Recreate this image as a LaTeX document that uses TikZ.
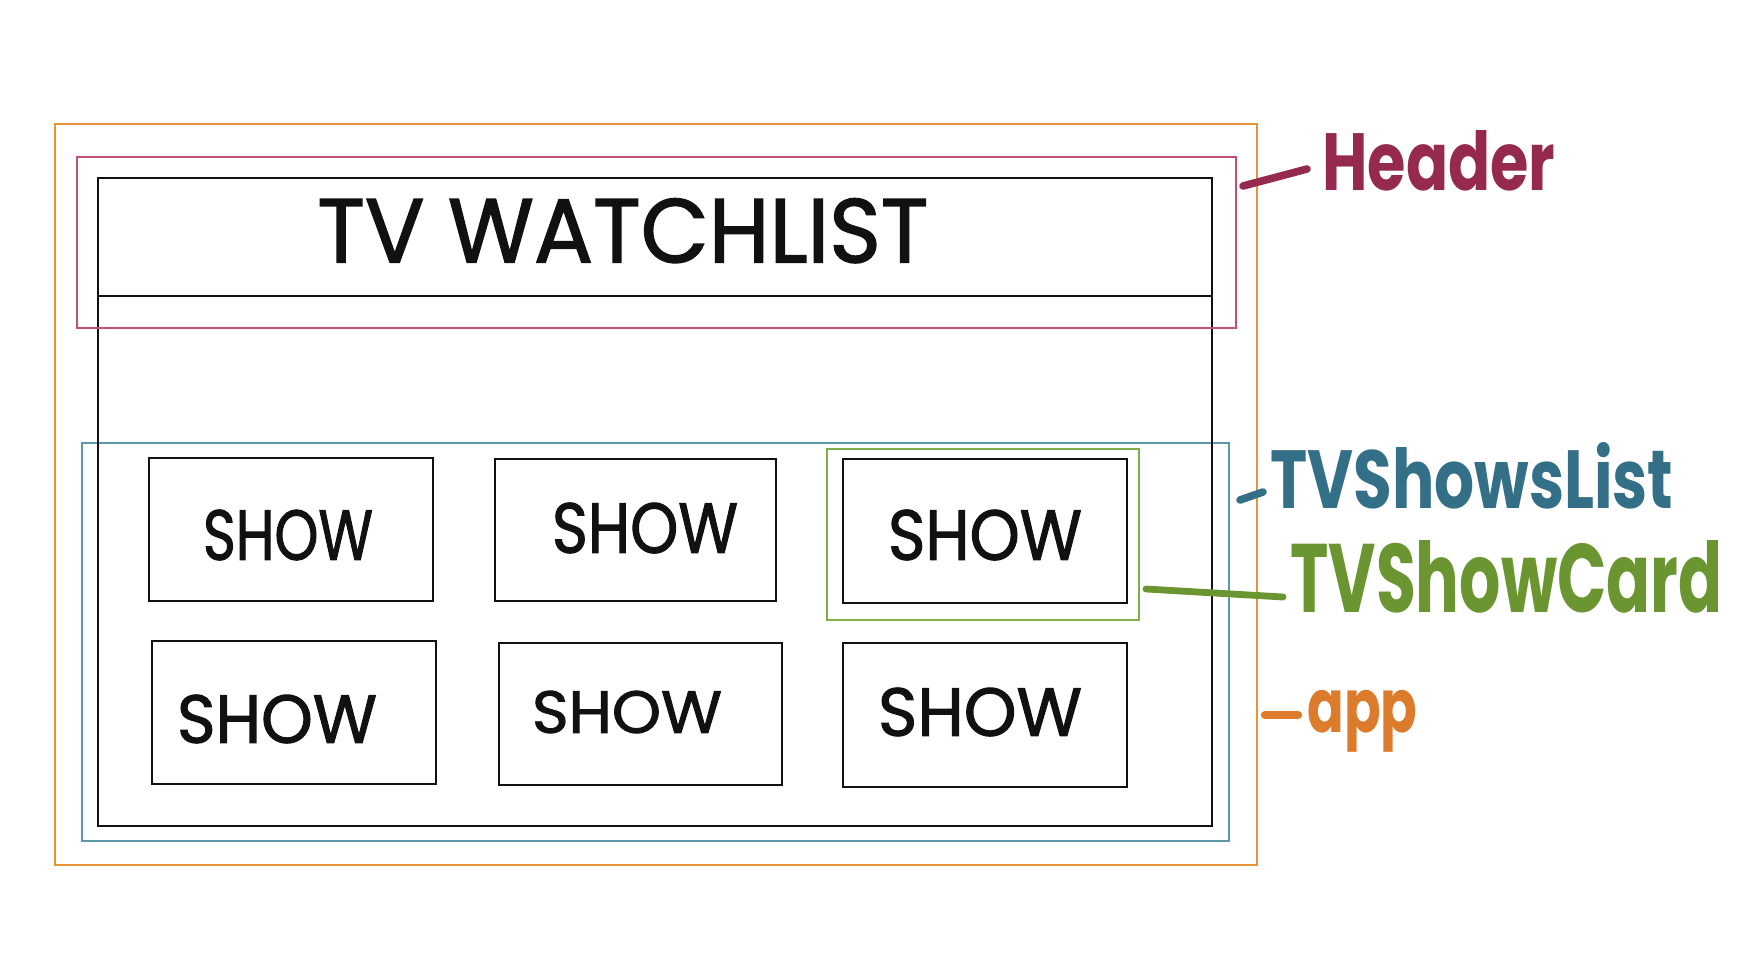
\documentclass[tikz,border=0pt]{standalone}
\usepackage{fontspec}
\setmainfont{Poppins}
\newfontfamily\inkfont{Poppins}[FakeBold=1.6]
\usepackage{graphicx}
\usetikzlibrary{fit}
\definecolor{appC}{HTML}{E8953A}
\definecolor{appT}{HTML}{DB7B2B}
\definecolor{hdrC}{HTML}{C0507A}
\definecolor{hdrT}{HTML}{962A4E}
\definecolor{lstC}{HTML}{5C98A8}
\definecolor{lstT}{HTML}{336F86}
\definecolor{crdC}{HTML}{80AE4A}
\definecolor{crdT}{HTML}{6A9530}
\definecolor{ink}{HTML}{111111}
\begin{document}
\begin{tikzpicture}[x=0.5pt,y=-0.5pt,
  sketchbox/.style={draw=ink, line width=1pt, inner sep=0pt},
  zone/.style={line width=0.8pt, inner sep=0pt},
  marker/.style={line width=3.8pt, line cap=round},
  lbl/.style={inner sep=0pt, anchor=north west},
  showtxt/.style={inner sep=0pt, text=ink, font=\inkfont}]
\useasboundingbox (0,0) rectangle (1754,968);
% zones
\node[zone, draw=appC, fit={(55,124)(1257,865)}] (app) {};
\node[zone, draw=lstC, fit={(82,443)(1229,841)}] (list) {};
\node[sketchbox, fit={(98,178)(1212,826)}] (outer) {};
\coordinate (hl) at (0,296);
\draw[ink, line width=1pt] (outer.west |- hl) -- (outer.east |- hl);
\node[zone, draw=hdrC, fit={(77,157)(1236,328)}] (header) {};
\node[zone, draw=crdC, fit={(827,449)(1139,620)}] (card) {};
% title
\node[lbl, text=ink, font=\inkfont] (title) at (317,198) {\resizebox{305.5pt}{32pt}{TV WATCHLIST}};
% show boxes
\node[sketchbox, fit={(149,458)(433,601)}] (s1) {};
\node[sketchbox, fit={(495,459)(776,601)}] (s2) {};
\node[sketchbox, fit={(843,459)(1127,603)}] (s3) {};
\node[sketchbox, fit={(152,641)(436,784)}] (s4) {};
\node[sketchbox, fit={(499,643)(782,785)}] (s5) {};
\node[sketchbox, fit={(843,643)(1127,787)}] (s6) {};
\node[showtxt] (t1) at (288,535) {\resizebox{85pt}{25pt}{SHOW}};
\node[showtxt] (t2) at (645,528) {\resizebox{93pt}{25pt}{SHOW}};
\node[showtxt] (t3) at (985,535) {\resizebox{97pt}{25pt}{SHOW}};
\node[showtxt] (t4) at (277,719) {\resizebox{100pt}{24pt}{SHOW}};
\node[showtxt] (t5) at (627,712) {\resizebox{95pt}{21pt}{SHOW}};
\node[showtxt] (t6) at (980,712) {\resizebox{102pt}{24pt}{SHOW}};
% labels
\node[lbl, text=hdrT] (lHeader) at (1322,130) {\resizebox{116.5pt}{30pt}{\bfseries Header}};
\node[lbl, text=lstT] (lList) at (1270,442) {\resizebox{201.5pt}{33pt}{\bfseries TVShowsList}};
\node[lbl, text=crdT] (lCard) at (1290,540) {\resizebox{216pt}{36pt}{\bfseries TVShowCard}};
\node[lbl, text=appT] (lApp) at (1307,690) {\resizebox*{55pt}{31pt}{\bfseries app}};
% connectors / dashes
\coordinate (hA) at (1243,186); \coordinate (hB) at (1307,169);
\draw[marker, hdrT] (hA) -- (hB);
\coordinate (lA) at (1240,500); \coordinate (lB) at (1263,492);
\draw[marker, lstT] (lA) -- (lB);
\coordinate (cA) at (1146,589); \coordinate (cB) at (1283,597);
\draw[marker, line width=3.4pt, crdT] (cA) -- (cB);
\coordinate (aA) at (1265,715); \coordinate (aB) at (1298,715);
\draw[marker, line width=4.2pt, appT] (aA) -- (aB);
\end{tikzpicture}
\end{document}
